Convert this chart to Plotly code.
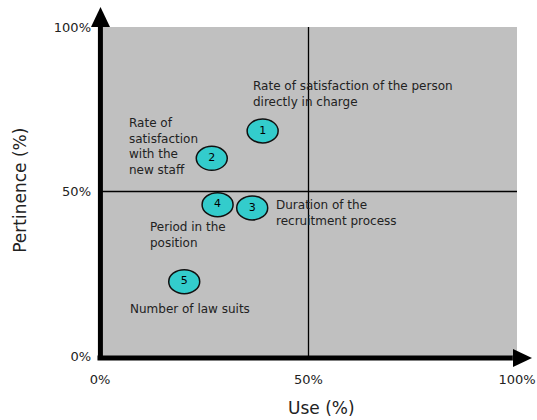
import plotly.graph_objects as go

# Criteria positioned by use and pertinence (both in %)
ids = ["1", "2", "3", "4", "5"]
use = [39.0, 26.8, 36.5, 28.2, 20.2]
pertinence = [68.4, 60.1, 45.0, 46.0, 22.6]

labels = [
    "Rate of satisfaction of the person<br>directly in charge",
    "Rate of<br>satisfaction<br>with the<br>new staff",
    "Duration of the<br>recruitment process",
    "Period in the<br>position",
    "Number of law suits",
]
# top-left corner of each caption, in axis units
label_x = [36.3, 6.4, 41.7, 11.4, 6.6]
label_y = [84.8, 73.6, 48.6, 42.0, 17.0]

tick_vals = [0, 50, 100]
tick_text = ["0%", "50%", "100%"]
split_x = 50
split_y = 50

FONT = "DejaVu Sans"
TEXT = "#222222"
TEAL = "#33cccc"

fig = go.Figure()

fig.add_trace(go.Scatter(
    x=use, y=pertinence, text=ids, mode="text",
    textfont=dict(family=FONT, size=11, color="#000000"),
    hoverinfo="skip", showlegend=False, cliponaxis=False,
))

shapes = []
# quadrant split lines
shapes.append(dict(type="line", xref="x", yref="paper", x0=split_x, x1=split_x,
                   y0=0, y1=1, line=dict(color="#000000", width=1.3), layer="below"))
shapes.append(dict(type="line", xref="paper", yref="y", x0=0, x1=1,
                   y0=split_y, y1=split_y, line=dict(color="#000000", width=1.3), layer="below"))
# elliptical bubbles
for xv, yv in zip(use, pertinence):
    shapes.append(dict(
        type="circle", xref="x", yref="y",
        xsizemode="pixel", ysizemode="pixel", xanchor=xv, yanchor=yv,
        x0=-15.5, x1=15.5, y0=-12, y1=12,
        fillcolor=TEAL, line=dict(color="#111111", width=1.5), layer="below",
    ))
# thick axes with arrow heads
shapes.append(dict(type="line", xref="paper", yref="paper", x0=0.001, x1=0.001,
                   y0=-0.012, y1=1.0, line=dict(color="#000000", width=5)))
shapes.append(dict(type="line", xref="paper", yref="paper", x0=-0.006, x1=0.99,
                   y0=-0.006, y1=-0.006, line=dict(color="#000000", width=5)))
shapes.append(dict(type="path", xref="paper", yref="paper",
                   xsizemode="pixel", ysizemode="pixel", xanchor=0, yanchor=1,
                   path="M -9 0 L 10 0 L 0.5 20 Z",
                   fillcolor="#000000", line=dict(color="#000000", width=0)))
shapes.append(dict(type="path", xref="paper", yref="paper",
                   xsizemode="pixel", ysizemode="pixel", xanchor=1, yanchor=0,
                   path="M -4 7 L -4 -11 L 15 -2 Z",
                   fillcolor="#000000", line=dict(color="#000000", width=0)))

annotations = []
for txt, lx, ly in zip(labels, label_x, label_y):
    annotations.append(dict(
        text=txt, x=lx, y=ly, xref="x", yref="y", xanchor="left", yanchor="top",
        align="left", showarrow=False, font=dict(family=FONT, size=12, color=TEXT),
    ))
annotations.append(dict(
    text="Use (%)", x=0.532, y=-0.158, xref="paper", yref="paper",
    xanchor="center", yanchor="middle", showarrow=False,
    font=dict(family=FONT, size=17, color=TEXT),
))
annotations.append(dict(
    text="Pertinence (%)", x=-0.192, y=0.505, xref="paper", yref="paper",
    xanchor="center", yanchor="middle", textangle=-90, showarrow=False,
    font=dict(family=FONT, size=17, color=TEXT),
))

axis_common = dict(
    range=[0, 100], tickvals=tick_vals, ticktext=tick_text,
    showgrid=False, zeroline=False, showline=False, ticks="",
    tickfont=dict(family=FONT, size=13, color=TEXT), fixedrange=True,
    automargin=False,
)

fig.update_layout(
    width=537, height=420,
    margin=dict(l=100, r=20, t=27, b=64),
    paper_bgcolor="#ffffff", plot_bgcolor="#c0c0c0",
    xaxis=dict(**axis_common, ticklabelstandoff=14),
    yaxis=dict(**axis_common, ticklabelstandoff=8),
    shapes=shapes, annotations=annotations, showlegend=False,
)

fig.write_html("out.html")
